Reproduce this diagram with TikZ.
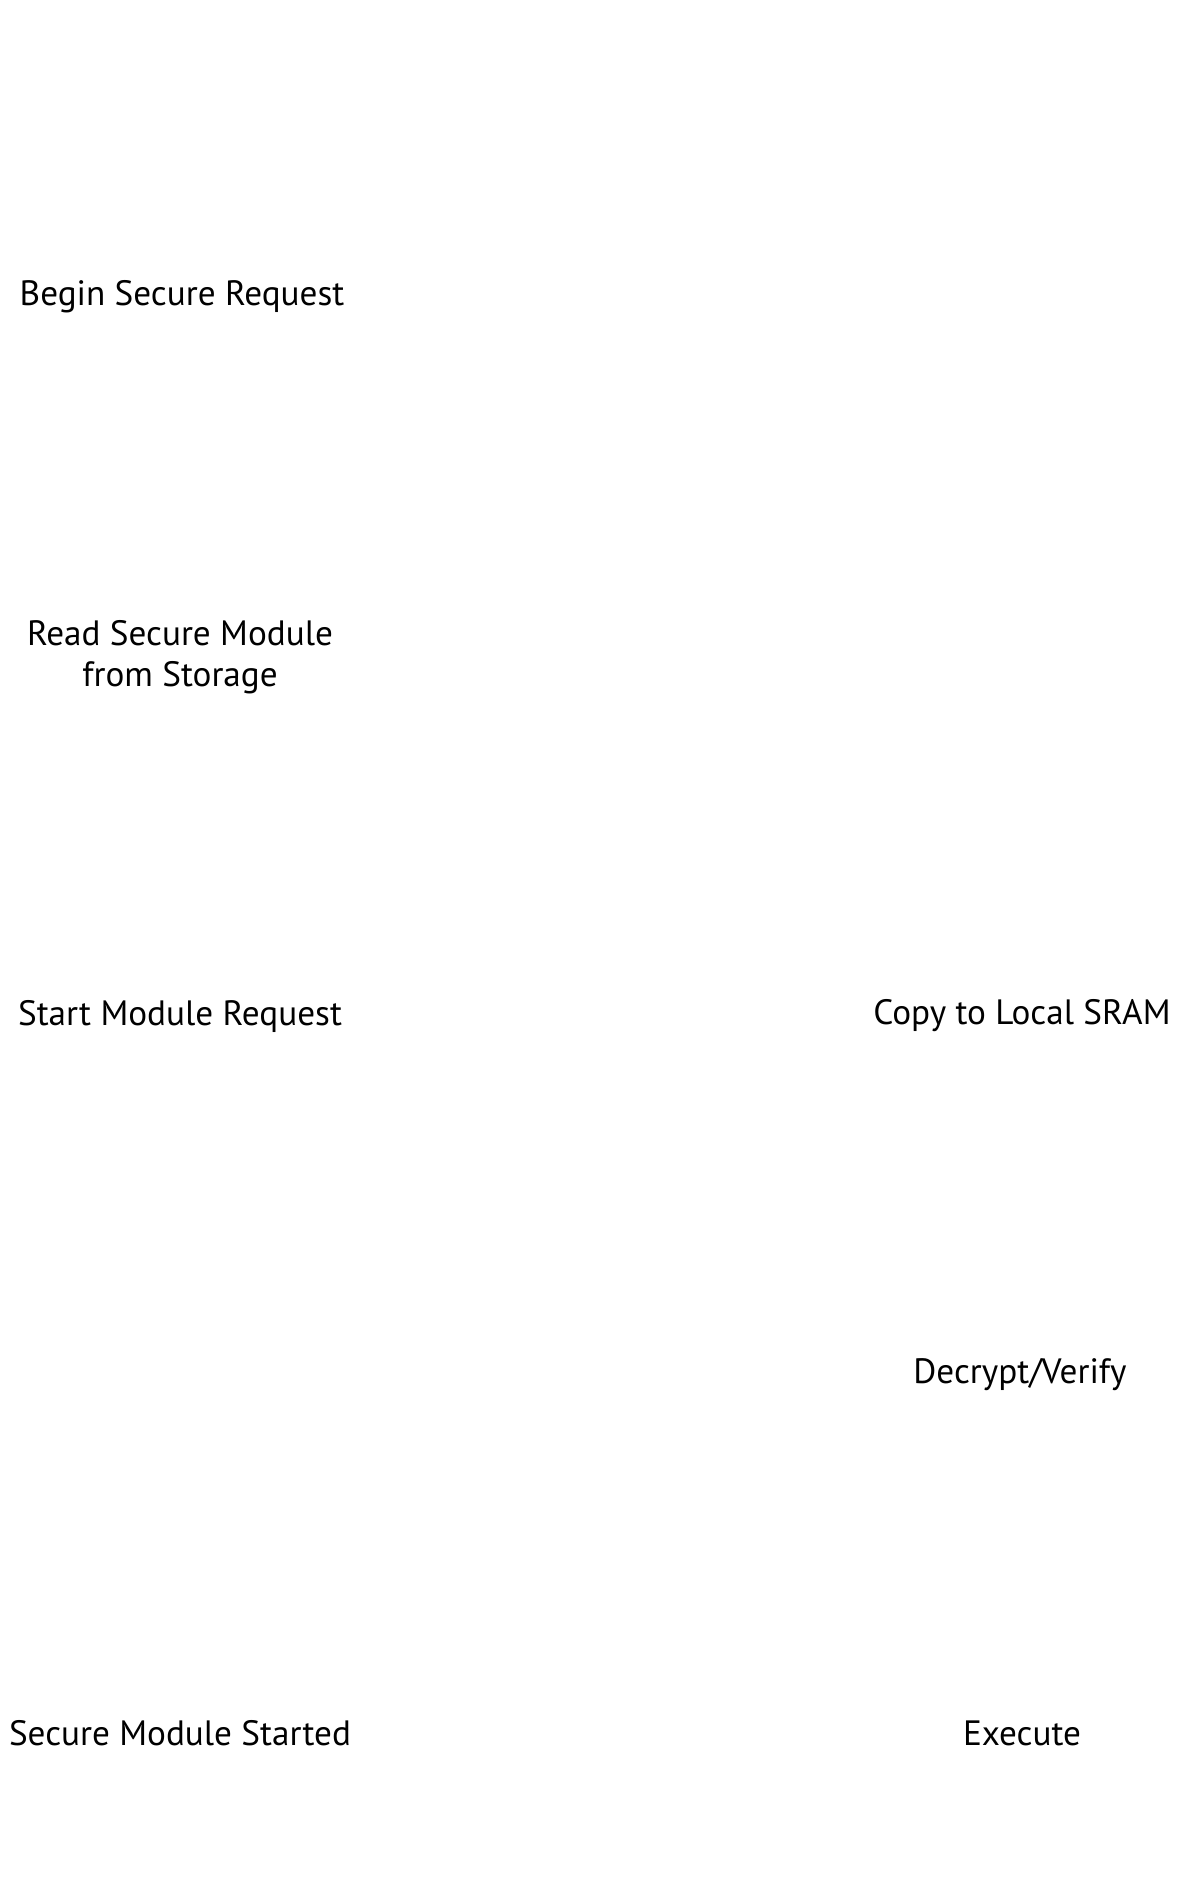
\documentclass[tikz,border=0pt]{standalone}
\usepackage{fontspec}
\setmainfont{PT Sans}
\begin{document}
\begin{tikzpicture}[x=0.5pt, y=-0.5pt, font=\fontsize{17.6}{20.5}\selectfont]
     \tikzstyle{stepnode}=[inner sep=2pt, align=center, text=black]
     \useasboundingbox[fill=white] (0,0) rectangle (1203,1890);
     \node[stepnode] (begin) at (182,297) {Begin Secure Request};
     \node[stepnode] (read) at (180,657) {Read Secure Module\\from Storage};
     \node[stepnode] (start) at (180,1016) {Start Module Request};
     \node[stepnode] (copy) at (1022,1016) {Copy to Local SRAM};
     \node[stepnode] (decrypt) at (1020,1375) {Decrypt/Verify};
     \node[stepnode] (started) at (180,1733) {Secure Module Started};
     \node[stepnode] (execute) at (1022,1733) {Execute};
\end{tikzpicture}
\end{document}
